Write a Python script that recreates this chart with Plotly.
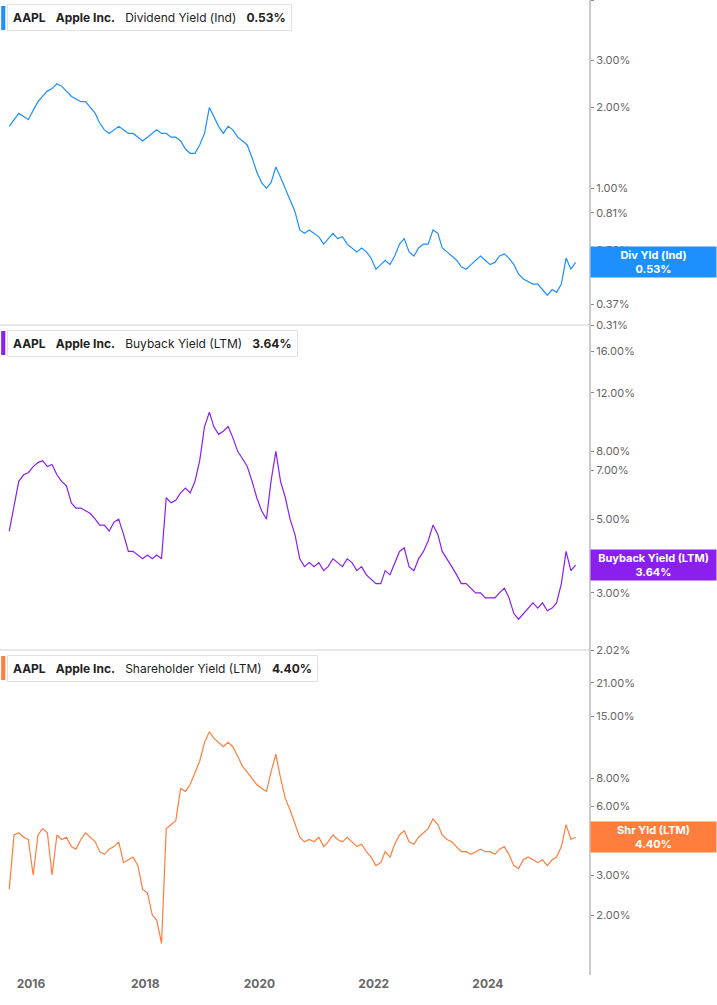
import math

import pandas as pd
import plotly.graph_objects as go

# monthly values, Jul 2015 .. Jun 2025 (percent)
DATES = pd.date_range("2015-07-15", periods=120, freq="MS") + pd.Timedelta(days=14)

DIV_YIELD = [
    1.70, 1.80, 1.90, 1.85, 1.80, 1.95, 2.10, 2.20, 2.30, 2.35, 2.45, 2.40,
    2.30, 2.20, 2.15, 2.10, 2.10, 2.00, 1.90, 1.75, 1.65, 1.60, 1.65, 1.70,
    1.65, 1.60, 1.60, 1.55, 1.50, 1.55, 1.60, 1.65, 1.60, 1.60, 1.55, 1.55,
    1.50, 1.40, 1.35, 1.35, 1.45, 1.60, 2.00, 1.85, 1.70, 1.60, 1.70, 1.65,
    1.55, 1.50, 1.45, 1.30, 1.15, 1.05, 1.00, 1.05, 1.20, 1.10, 1.00, 0.90,
    0.82, 0.70, 0.68, 0.70, 0.68, 0.66, 0.62, 0.65, 0.68, 0.65, 0.66, 0.62,
    0.60, 0.58, 0.60, 0.58, 0.55, 0.50, 0.52, 0.54, 0.52, 0.56, 0.62, 0.65,
    0.58, 0.56, 0.60, 0.62, 0.62, 0.70, 0.68, 0.60, 0.58, 0.56, 0.54, 0.51,
    0.50, 0.52, 0.54, 0.56, 0.54, 0.52, 0.53, 0.56, 0.57, 0.55, 0.52, 0.48,
    0.46, 0.45, 0.44, 0.44, 0.42, 0.40, 0.42, 0.41, 0.44, 0.55, 0.50, 0.53,
]
BUYBACK_YIELD = [
    4.6, 5.5, 6.5, 6.8, 6.9, 7.2, 7.4, 7.5, 7.2, 7.3, 6.8, 6.5,
    6.3, 5.6, 5.4, 5.4, 5.3, 5.2, 5.0, 4.8, 4.8, 4.6, 4.9, 5.0,
    4.5, 4.0, 4.0, 3.9, 3.8, 3.9, 3.8, 3.9, 3.8, 5.8, 5.6, 5.7,
    6.0, 6.2, 6.0, 6.5, 7.5, 9.5, 10.5, 9.5, 9.0, 9.2, 9.5, 8.8,
    8.0, 7.6, 7.2, 6.5, 5.8, 5.3, 5.0, 6.5, 8.0, 6.5, 5.8, 5.0,
    4.5, 3.8, 3.6, 3.7, 3.6, 3.7, 3.5, 3.6, 3.8, 3.7, 3.6, 3.8,
    3.7, 3.5, 3.6, 3.4, 3.3, 3.2, 3.2, 3.5, 3.4, 3.7, 4.0, 4.1,
    3.6, 3.5, 3.8, 4.0, 4.3, 4.8, 4.5, 4.0, 3.8, 3.6, 3.4, 3.2,
    3.2, 3.1, 3.0, 3.0, 2.9, 2.9, 2.9, 3.0, 3.1, 2.9, 2.6, 2.5,
    2.6, 2.7, 2.8, 2.7, 2.8, 2.65, 2.7, 2.8, 3.2, 4.0, 3.5, 3.64,
]
SHAREHOLDER_YIELD = [
    2.6, 4.5, 4.6, 4.4, 4.3, 3.0, 4.5, 4.8, 4.6, 3.0, 4.5, 4.3,
    4.4, 4.0, 3.9, 4.3, 4.6, 4.4, 4.2, 3.8, 3.7, 3.9, 4.0, 4.2,
    3.4, 3.5, 3.6, 3.3, 2.6, 2.5, 2.0, 1.9, 1.5, 4.8, 5.0, 5.2,
    7.2, 7.0, 7.5, 8.5, 9.5, 11.5, 12.8, 12.0, 11.5, 11.0, 11.5, 11.0,
    10.0, 9.0, 8.5, 8.0, 7.5, 7.2, 7.0, 8.5, 10.2, 8.0, 6.5, 5.8,
    5.0, 4.4, 4.2, 4.3, 4.2, 4.4, 4.0, 4.2, 4.5, 4.3, 4.2, 4.4,
    4.2, 4.0, 4.1, 3.8, 3.6, 3.3, 3.4, 3.8, 3.6, 4.1, 4.5, 4.7,
    4.2, 4.1, 4.4, 4.6, 4.8, 5.3, 5.0, 4.5, 4.3, 4.2, 4.0, 3.8,
    3.8, 3.7, 3.8, 3.9, 3.8, 3.8, 3.7, 3.9, 4.0, 3.7, 3.3, 3.2,
    3.5, 3.6, 3.5, 3.4, 3.5, 3.3, 3.5, 3.6, 4.0, 5.0, 4.3, 4.40,
]

PANELS = [
    # (values, colour, legend name, tag, ticks, range lo, range hi)
    (DIV_YIELD, "#1e8fff", "Dividend Yield (Ind)", "Div Yld (Ind)",
     [5.00, 3.00, 2.00, 1.00, 0.81, 0.59, 0.37, 0.31], 0.31, 5.02),
    (BUYBACK_YIELD, "#8a1ff0", "Buyback Yield (LTM)", "Buyback Yield (LTM)",
     [16.00, 12.00, 8.00, 7.00, 5.00, 3.00, 2.02], 2.02, 19.2),
    (SHAREHOLDER_YIELD, "#ff7e3e", "Shareholder Yield (LTM)", "Shr Yld (LTM)",
     [21.00, 15.00, 8.00, 6.00, 3.00, 2.00], 1.09, 29.3),
]
YEAR_TICKS = ["2016", "2018", "2020", "2022", "2024"]

PLOT_H = 975
fig = go.Figure()
annotations = []
shapes = []
for i, (vals, color, name, tag, ticks, lo, hi) in enumerate(PANELS):
    ax = "" if i == 0 else str(i + 1)
    top = 1 - i / 3
    fig.add_trace(go.Scatter(
        x=DATES, y=vals, mode="lines", line=dict(color=color, width=1.2),
        xaxis="x" + ax, yaxis="y" + ax, showlegend=False,
    ))
    fig.layout["yaxis" + ax] = dict(
        type="log", range=[math.log10(lo), math.log10(hi)],
        domain=[top - 1 / 3, top], side="right", anchor="x" + ax,
        tickvals=ticks, ticktext=[f"{t:.2f}%" for t in ticks],
        ticks="outside", ticklen=3, tickcolor="#888",
        showgrid=False, zeroline=False,
        tickfont=dict(size=11, color="#666"),
    )
    fig.layout["xaxis" + ax] = dict(
        range=["2015-06-17", "2025-10-15"], showgrid=False,
        showticklabels=(i == 2), matches=None if i == 0 else "x",
        tickvals=[f"{y}-01-01" for y in YEAR_TICKS],
        ticktext=[f"<b>{y}</b>" for y in YEAR_TICKS],
        tickfont=dict(size=12, color="#666", family="Inter"),
        anchor="y" + ax, showline=False, zeroline=False,
    )
    # legend box
    y_px = (i * 325) + 5
    annotations.append(dict(
        xref="paper", yref="paper", x=0.012, y=1 - (y_px + 13) / PLOT_H,
        xanchor="left", yanchor="middle", showarrow=False,
        text=f"<b>AAPL</b>   <b>Apple Inc.</b>   {name}   <b>{vals[-1]:.2f}%</b>",
        font=dict(size=12, color="#222"),
        bordercolor="#e2e2e2", borderwidth=1, borderpad=5, bgcolor="white",
    ))
    shapes.append(dict(
        type="rect", xref="paper", yref="paper", x0=0.002, x1=0.009,
        y0=1 - (y_px + 25) / PLOT_H, y1=1 - (y_px + 1) / PLOT_H,
        fillcolor=color, line=dict(width=0),
    ))
    # last value tag
    annotations.append(dict(
        xref="paper", yref="y" + ax, x=1.0, y=math.log10(vals[-1]),
        xanchor="left", yanchor="middle", showarrow=False,
        text=f"<b>{tag}<br>{vals[-1]:.2f}%</b>",
        font=dict(size=11, color="white"), bgcolor=color,
        width=123, height=28, borderpad=1,
    ))
    if i > 0:
        shapes.append(dict(
            type="line", xref="paper", yref="paper", x0=0, x1=1,
            y0=top, y1=top, line=dict(color="#cfcfcf", width=1),
        ))

shapes.append(dict(
    type="line", xref="paper", yref="paper", x0=1, x1=1, y0=0, y1=1.05,
    line=dict(color="#999", width=1),
))

fig.update_layout(
    width=717, height=1005,
    margin=dict(l=0, r=127, t=0, b=30),
    paper_bgcolor="white", plot_bgcolor="white",
    font=dict(family="Inter", color="#333"),
    annotations=annotations, shapes=shapes,
)
fig.write_html("out.html", config={"displayModeBar": False},
               post_script="document.body.style.margin='0';")
